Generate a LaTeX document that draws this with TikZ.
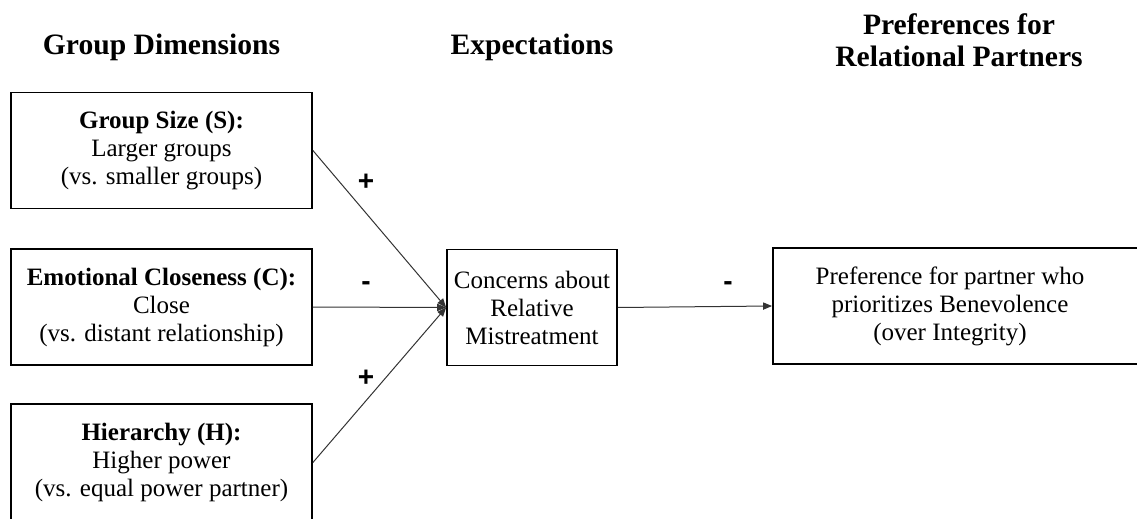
\documentclass[tikz,border=0pt]{standalone}
\usepackage{fontspec}
\setmainfont{Liberation Serif}
\newfontfamily\signfont{Liberation Sans}
\usetikzlibrary{arrows.meta}
\begin{document}
\begin{tikzpicture}[
  x=0.5pt, y=-0.5pt,
  dimbox/.style={draw, line width=0.9pt, align=center, inner sep=0pt, minimum width=150.5pt, minimum height=58pt, font=\fontsize{12.5}{14}\selectfont},
  heading/.style={align=center, font=\fontsize{14.8}{16.2}\selectfont\bfseries},
  sign/.style={font=\fontsize{14}{16}\selectfont\signfont\bfseries},
  link/.style={line width=0.5pt, draw=black!80, -{Triangle[length=4.5pt,width=3.6pt]}}
]
\useasboundingbox (0,0) rectangle (1137,519);
\node[heading] (hdim) at (161.5,47) {Group Dimensions};
\node[heading] (hexp) at (532,47) {Expectations};
\node[heading] (hpref) at (959,40) {Preferences for\\Relational Partners};
\node[dimbox] (size) at (161.5,150.5) {\textbf{Group Size (S):}\\Larger groups\\(vs. smaller groups)};
\node[dimbox] (close) at (161.5,307) {\textbf{Emotional Closeness (C):}\\Close\\(vs. distant relationship)};
\node[dimbox, minimum height=58.5pt] (hier) at (161.5,462.5) {\textbf{Hierarchy (H):}\\Higher power\\(vs. equal power partner)};
\node[dimbox, minimum width=85pt] (concern) at (532,307.5) {Concerns about\\Relative\\Mistreatment};
\node[dimbox, minimum width=184pt] (pref) at (957,306) {\parbox{170pt}{\centering Preference for partner who\\prioritizes Benevolence\\(over Integrity)}\hspace{7pt}};
\draw[link] (size.east) -- (concern.west);
\draw[link] (close.east) -- (concern.west);
\draw[link] (hier.east) -- (concern.west);
\draw[link] (concern.east) -- (pref.west);
\node[sign] (s1) at (366,182) {+};
\node[sign] (s2) at (366,286) {-};
\node[sign] (s3) at (366,378) {+};
\node[sign] (s4) at (728,286) {-};
\end{tikzpicture}
\end{document}
